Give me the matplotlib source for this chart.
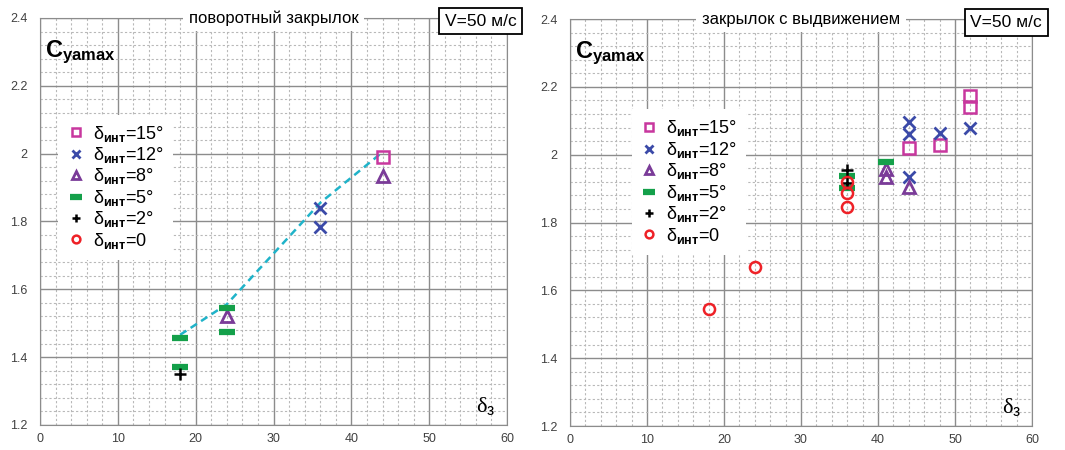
import matplotlib
matplotlib.use('Agg')
import matplotlib.pyplot as plt
from matplotlib.ticker import MultipleLocator

plt.rcParams['font.family'] = ['Liberation Sans', 'DejaVu Sans']
plt.rcParams['mathtext.fontset'] = 'custom'
plt.rcParams['mathtext.rm'] = 'Liberation Sans'
plt.rcParams['mathtext.bf'] = 'Liberation Sans:bold'
plt.rcParams['mathtext.it'] = 'Liberation Sans:italic'

# ---- данные: поворотный закрылок ----
rot_15_x = [44]
rot_15_y = [1.99]
rot_12_x = [36, 36]
rot_12_y = [1.84, 1.785]
rot_8_x = [24, 44]
rot_8_y = [1.52, 1.935]
rot_5_x = [18, 18, 24, 24]
rot_5_y = [1.455, 1.37, 1.545, 1.475]
rot_2_x = [18]
rot_2_y = [1.35]
rot_0_x = []
rot_0_y = []
env_x = [18, 24, 36, 43.6]
env_y = [1.466, 1.556, 1.855, 1.997]

# ---- данные: закрылок с выдвижением ----
ext_15_x = [44, 48, 52, 52]
ext_15_y = [2.02, 2.03, 2.172, 2.142]
ext_12_x = [44, 44, 44, 48, 52]
ext_12_y = [2.095, 2.06, 1.935, 2.065, 2.08]
ext_8_x = [41, 41, 44]
ext_8_y = [1.958, 1.935, 1.905]
ext_5_x = [36, 36, 41]
ext_5_y = [1.937, 1.903, 1.978]
ext_2_x = [36, 36]
ext_2_y = [1.955, 1.918]
ext_0_x = [18, 24, 36, 36, 36]
ext_0_y = [1.544, 1.67, 1.846, 1.886, 1.92]

labels = ['δ$_{\\mathbf{инт}}$=15°', 'δ$_{\\mathbf{инт}}$=12°', 'δ$_{\\mathbf{инт}}$=8°',
          'δ$_{\\mathbf{инт}}$=5°', 'δ$_{\\mathbf{инт}}$=2°', 'δ$_{\\mathbf{инт}}$=0']

styles = [
    dict(marker='s', mfc='none', mec='#c8379e', ms=8, mew=1.8),
    dict(marker='x', color='#3b4aa8', ms=9, mew=2.0),
    dict(marker='^', mfc='none', mec='#7a3b98', ms=9, mew=2.0),
    dict(marker='_', color='#14a04a', ms=12, mew=4.5),
    dict(marker='+', color='black', ms=9, mew=1.8),
    dict(marker='o', mfc='none', mec='#ee2127', ms=8, mew=1.8),
]

fig = plt.figure(figsize=(10.65, 4.5), dpi=100)
ax1 = fig.add_axes([0.0376, 0.0556, 0.4385, 0.9044])
ax2 = fig.add_axes([0.5352, 0.0533, 0.4338, 0.9044])


def setup(ax, title):
    ax.set_xlim(0, 60)
    ax.set_ylim(1.2, 2.4)
    ax.xaxis.set_major_locator(MultipleLocator(10))
    ax.xaxis.set_minor_locator(MultipleLocator(2))
    ax.yaxis.set_major_locator(MultipleLocator(0.2))
    ax.yaxis.set_minor_locator(MultipleLocator(0.04))
    ax.grid(which='major', color='#8c8c8c', lw=1.0)
    ax.grid(which='minor', color='#b8b8b8', lw=0.8, ls=(0, (2, 2)))
    ax.set_axisbelow(True)
    ax.set_yticks([1.2, 1.4, 1.6, 1.8, 2.0, 2.2, 2.4])
    ax.set_yticklabels(['1.2', '1.4', '1.6', '1.8', '2', '2.2', '2.4'])
    ax.tick_params(which='both', length=0, labelsize=9, labelcolor='#404040')
    ax.tick_params(axis='x', pad=6)
    ax.tick_params(axis='y', pad=9)
    for s in ax.spines.values():
        s.set_color('#8c8c8c')
    ax.text(0.5, 1.0, title, transform=ax.transAxes, ha='center', va='center',
            fontsize=12, bbox=dict(facecolor='white', edgecolor='none', pad=4), zorder=5)
    ax.text(0.944, 1.01, 'V=50 м/с', transform=ax.transAxes, ha='center', va='top',
            fontsize=12.5, clip_on=False,
            bbox=dict(facecolor='white', edgecolor='black', lw=1.3, pad=4), zorder=6)
    ax.text(0.01, 0.915, '$\\mathbf{C}_{\\mathbf{yamax}}$', transform=ax.transAxes,
            fontsize=17, ha='left', va='center', zorder=5)
    ax.text(0.955, 0.045, 'δ$_{\\mathrm{з}}$', transform=ax.transAxes,
            family='Liberation Serif', fontsize=16, ha='center', va='center', zorder=5)


setup(ax1, 'поворотный закрылок')
setup(ax2, 'закрылок с выдвижением')

ax1.plot(env_x, env_y, ls=(0, (3, 2)), color='#1fb3c9', lw=1.8, zorder=3)

rot = [(rot_15_x, rot_15_y), (rot_12_x, rot_12_y), (rot_8_x, rot_8_y),
       (rot_5_x, rot_5_y), (rot_2_x, rot_2_y), (rot_0_x, rot_0_y)]
ext = [(ext_15_x, ext_15_y), (ext_12_x, ext_12_y), (ext_8_x, ext_8_y),
       (ext_5_x, ext_5_y), (ext_2_x, ext_2_y), (ext_0_x, ext_0_y)]

for ax, data, anchor in [(ax1, rot, (0.02, 0.785)), (ax2, ext, (0.115, 0.8))]:
    handles = []
    for (xs, ys), st, lb in zip(data, styles, labels):
        h, = ax.plot(xs, ys, ls='none', label=lb, zorder=4, **st)
        handles.append(h)
    leg = ax.legend(handles=handles, loc='upper left', bbox_to_anchor=anchor,
                    frameon=True, fontsize=13, handlelength=0.9, handletextpad=0.5,
                    labelspacing=0.08, borderpad=0.5, markerscale=0.7)
    leg.get_frame().set_edgecolor('none')
    leg.get_frame().set_facecolor('white')
    leg.get_frame().set_alpha(1)
    leg.get_frame().set_boxstyle('square', pad=0)

fig.savefig('out.png', dpi=100)
